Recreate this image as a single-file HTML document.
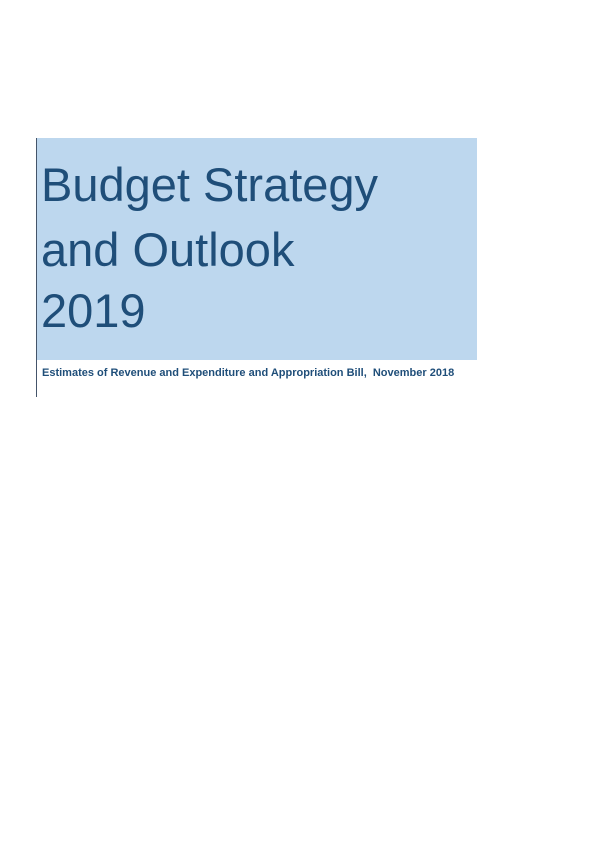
<!DOCTYPE html>
<html><head><meta charset="utf-8"><style>
html,body{margin:0;padding:0;background:#fff;}
body{width:596px;height:842px;position:relative;overflow:hidden;font-family:"Liberation Sans",sans-serif;}
#rule{position:absolute;left:36px;top:138px;width:1px;height:259px;background:#44546a;}
#box{position:absolute;left:37px;top:138px;width:440px;height:222px;background:#bdd7ee;}
.t{position:absolute;left:41px;font-size:47px;color:#1f4e79;white-space:nowrap;line-height:1;}
#sub{position:absolute;left:42px;top:367px;font-size:11px;font-weight:bold;color:#1f4e79;white-space:nowrap;}
</style></head><body>
<div id="rule"></div>
<div id="box"></div>
<div class="t" style="top:161px">Budget Strategy</div>
<div class="t" style="top:226px">and Outlook</div>
<div class="t" style="top:287px">2019</div>
<div id="sub">Estimates of Revenue and Expenditure and Appropriation Bill,&nbsp; November 2018</div>
</body></html>
